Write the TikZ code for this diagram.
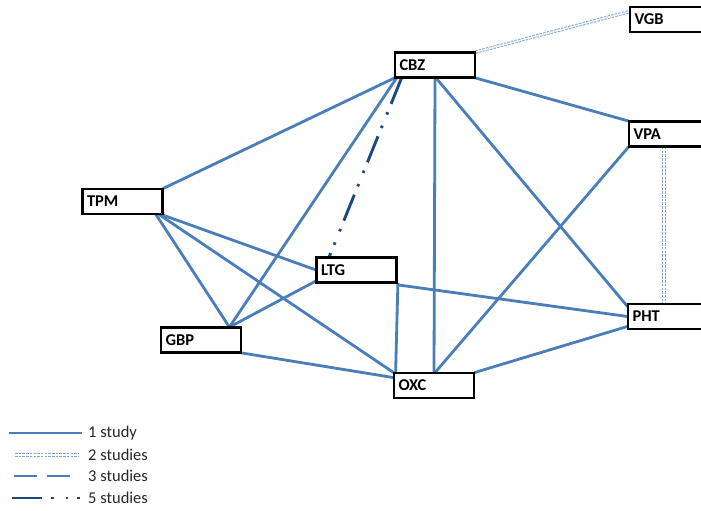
\documentclass[tikz,border=0pt]{standalone}
\usepackage{fontspec}
\setmainfont{Carlito}
\usetikzlibrary{calc}
\definecolor{edgeblue}{HTML}{4A7EBB}
\definecolor{lightblue}{HTML}{7FA6D6}
\definecolor{darkblue}{HTML}{1F497D}
\definecolor{legtext}{HTML}{262626}
\tikzset{
  drugbox/.style={draw=black, line width=1.8pt, rectangle, fill=white,
    minimum width=79pt, minimum height=24pt, text width=71pt, inner sep=4pt,
    align=left, font=\bfseries\fontsize{16.5}{17}\selectfont},
  onestudy/.style={draw=edgeblue, line width=2.8pt},
  twostudy/.style={draw=lightblue, line width=1.0pt, double=white, double distance=1.4pt,
    dash pattern=on 2.5pt off 1.2pt},
  threestudy/.style={draw=edgeblue, line width=2.8pt, dash pattern=on 23pt off 10pt},
  fivestudy/.style={draw=darkblue, line width=2.9pt, dash pattern=on 28pt off 9pt on 2.5pt off 12pt on 2.5pt off 9pt},
  legtxt/.style={anchor=west, text=legtext, font=\fontsize{16.5}{17}\selectfont, inner sep=0pt}
}
\begin{document}
\begin{tikzpicture}[x=1pt,y=-1pt]
\useasboundingbox (0,0) rectangle (701,511);
% nodes
\node[drugbox] (cbz) at (435,65) {CBZ};
\node[drugbox] (vgb) at (670,19.5) {VGB};
\node[drugbox] (vpa) at (669,134) {VPA};
\node[drugbox] (pht) at (668,316.5) {PHT};
\node[drugbox] (ltg) at (356.5,270) {LTG};
\node[drugbox] (tpm) at (122.5,201.5) {TPM};
\node[drugbox] (gbp) at (201,340) {GBP};
\node[drugbox] (oxc) at (434,385.5) {OXC};
% edges
\draw[twostudy] (cbz.north east) -- ($(vgb.north west)+(0,5)$);
\draw[twostudy] ($(vpa.south)+(-5,0)$) -- ($(pht.north)+(-4,0)$);
\draw[onestudy] (cbz.south west) -- (tpm.north east);
\draw[onestudy] ($(cbz.south west)+(2,0)$) -- ($(gbp.north east)+(-12,0)$);
\draw[fivestudy] ($(cbz.south west)+(7,0)$) -- ($(ltg.north west)+(13,0)$);
\draw[onestudy] (cbz.south) -- (oxc.north);
\draw[onestudy] ($(cbz.south)+(1,0)$) -- ($(pht.north west)+(0,3)$);
\draw[onestudy] (cbz.south east) -- (vpa.north west);
\draw[onestudy] (vpa.south west) -- ($(oxc.north)+(1,0)$);
\draw[onestudy] ($(tpm.south east)+(-2,0)$) -- (ltg.west);
\draw[onestudy] ($(tpm.south east)+(-7,0)$) -- ($(gbp.north east)+(-12,0)$);
\draw[onestudy] ($(tpm.south east)+(-4,0)$) -- (oxc.north west);
\draw[onestudy] ($(gbp.north east)+(-12,0)$) -- ($(ltg.south west)+(0,-2)$);
\draw[onestudy] (gbp.south east) -- ($(oxc.north west)+(0,5)$);
\draw[onestudy] ($(ltg.south east)+(1,0)$) -- ($(oxc.north west)+(2,0)$);
\draw[onestudy] ($(ltg.south east)+(1,2)$) -- (pht.west);
\draw[onestudy] (oxc.north east) -- ($(pht.south west)+(0,-3)$);
% redraw boxes on top
\foreach \n in {cbz,vgb,vpa,pht,ltg,tpm,gbp,oxc}{
  \draw[black, line width=1.8pt] (\n.north west) rectangle (\n.south east);
}
% legend
\coordinate (l1a) at (9,433); \coordinate (l1b) at (82,433);
\coordinate (l2a) at (15,455); \coordinate (l2b) at (78,455);
\coordinate (l3a) at (14,476); \coordinate (l3b) at (78,476);
\coordinate (l4a) at (12,498); \coordinate (l4b) at (80,498);
\draw[onestudy] (l1a) -- (l1b);
\draw[twostudy] (l2a) -- (l2b);
\draw[threestudy] (l3a) -- (l3b);
\draw[fivestudy, dash pattern=on 30pt off 9pt on 2.5pt off 12pt on 2.5pt off 9pt] (l4a) -- (l4b);
\node[legtxt] (t1) at (88,433) {1 study};
\node[legtxt] (t2) at (88,455) {2 studies};
\node[legtxt] (t3) at (88,476) {3 studies};
\node[legtxt] (t4) at (88,498) {5 studies};
\end{tikzpicture}
\end{document}
